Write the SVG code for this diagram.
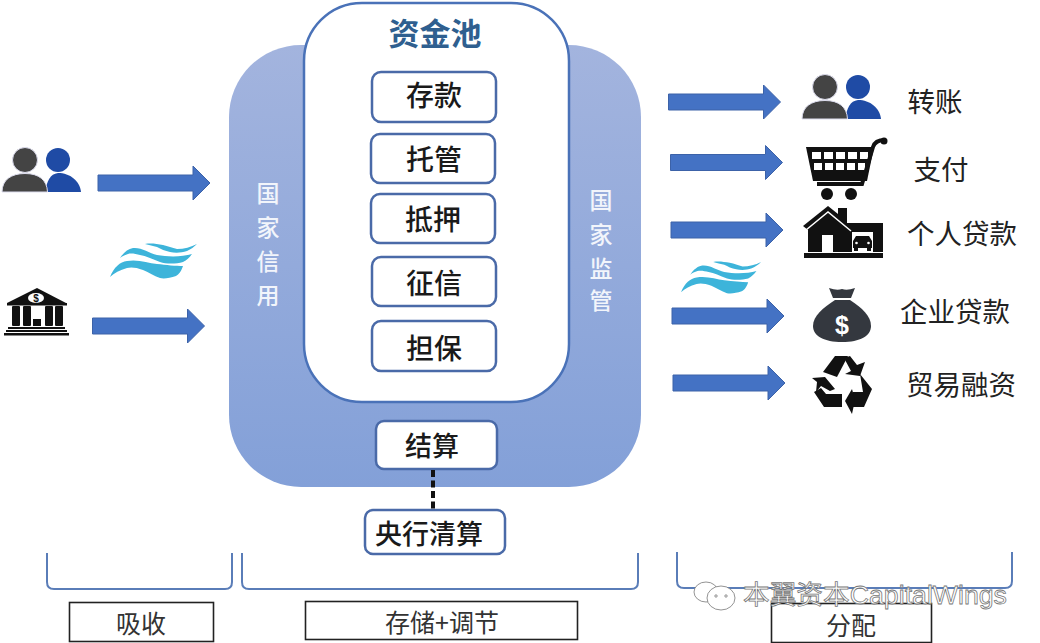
<svg xmlns="http://www.w3.org/2000/svg" width="1040" height="643" viewBox="0 0 1040 643">
<style>
text{font-family:"Liberation Sans","Noto Sans CJK SC",sans-serif;text-anchor:middle}
.box{fill:#fff;stroke:#4a6aa8;stroke-width:2.5}
.bt{font-size:28px;font-weight:500;fill:#1a1a1a;font-family:"Noto Sans CJK SC",sans-serif}
.lab{font-size:27.500px;fill:#222;font-family:"Noto Sans CJK SC",sans-serif;font-weight:400}
.side{font-size:23px;font-weight:500;fill:#f2f5fb;font-family:"Noto Sans CJK SC",sans-serif}
.arrow{fill:#4472c4;stroke:#3c62a8;stroke-width:1}
.brk{fill:none;stroke:#5a7db8;stroke-width:2}
.cap{fill:#fff;stroke:#222;stroke-width:1.6}
.capt{font-size:25px;fill:#333;font-family:"Noto Sans CJK SC",sans-serif;font-weight:400}
.wm{font-size:26.700px;fill:#fff;stroke:#777;stroke-width:.8;font-family:"Liberation Sans","Noto Sans CJK SC",sans-serif;text-anchor:start}
</style>
<defs>
<linearGradient id="panel" x1="0" y1="0" x2="0" y2="1"><stop offset="0" stop-color="#a3b4de"/><stop offset="1" stop-color="#83a0d8"/></linearGradient>
<path id="arr" class="arrow" d="M0 -8H95V-17L112 0L95 17V8H0Z"/>
<g id="people">
<circle cx="58" cy="12" r="12" fill="#1f4ba5"/>
<path d="M45 44C47 33 50 26 58 25C70 25 80 33 81 44Z" fill="#1f4ba5"/>
<circle cx="25" cy="12" r="12.500" fill="#444" stroke="#dde" stroke-width="1"/>
<path d="M2 44C2 32 11 25.500 25 25.500C39 25.500 47 32 47.500 44Z" fill="#444" stroke="#dde" stroke-width="1"/>
</g>
<g id="wave" fill="#3db4da">
<path d="M0 34C4 24 10 19 17 18C28 16 38 20 47 21C56 22 66 23 73 23C71 29 69 31 66 33C60 35 54 36 50 35C44 33 38 29 33 27C26 24 20 24 17 25C10 27 4 30 0 34Z"/>
<path d="M10 15C14 9 18 6 23 5C31 4 39 10 47 12C58 14 72 14 82 11C79 15 77 17 73 19C66 21 56 21 50 19C42 16 36 13 30 12C26 11 21 10 18 11C15 12 12 13 10 15Z"/>
<path d="M35 1C41 0 47 1 53 2C58 3 62 5 67 6C74 6 81 4 87 1C84 4 81 6 77 8C71 10 65 10 60 9C55 8 51 6 47 4C43 3 39 2 35 1Z"/>
</g>
</defs>
<rect width="1040" height="643" fill="#fff"/>

<g id="panel-node">
<rect x="229" y="45" width="412" height="442" rx="72" fill="url(#panel)"/>
<text class="side" x="268" y="202">国</text><text class="side" x="268" y="236">家</text><text class="side" x="268" y="270">信</text><text class="side" x="268" y="304">用</text>
<text class="side" x="601" y="209">国</text><text class="side" x="601" y="243">家</text><text class="side" x="601" y="277">监</text><text class="side" x="601" y="309">管</text>
</g>
<g id="pool">
<rect x="304" y="3" width="265" height="399" rx="58" fill="#fff" stroke="#4a72b8" stroke-width="2.500"/>
<text x="435" y="45" font-size="31" font-weight="700" fill="#2f5f8f" style="font-family:'Noto Sans CJK SC',sans-serif">资金池</text>
</g>
<g id="n-cunkuan"><rect class="box" x="372" y="72" width="124" height="50" rx="9"/><text class="bt" x="434" y="106">存款</text></g>
<g id="n-tuoguan"><rect class="box" x="371" y="134" width="124" height="49" rx="9"/><text class="bt" x="434" y="170">托管</text></g>
<g id="n-diya"><rect class="box" x="371" y="194" width="124" height="49" rx="9"/><text class="bt" x="433" y="230">抵押</text></g>
<g id="n-zhengxin"><rect class="box" x="372" y="257" width="124" height="49" rx="9"/><text class="bt" x="434" y="294">征信</text></g>
<g id="n-danbao"><rect class="box" x="372" y="321" width="124" height="50" rx="9"/><text class="bt" x="434" y="359">担保</text></g>
<g id="n-jiesuan"><rect class="box" x="376" y="421" width="121" height="48" rx="8"/><text class="bt" x="432" y="456" style="font-size:27px">结算</text></g>
<g id="n-yanghang"><rect class="box" x="365" y="510" width="140" height="44" rx="8"/><text class="bt" x="429" y="544" style="font-size:27px">央行清算</text></g>

<g id="connectors">
<use href="#arr" x="98" y="183"/>
<use href="#arr" x="92.500" y="326"/>
<use href="#arr" x="668.500" y="102"/>
<use href="#arr" x="670.500" y="162.500"/>
<use href="#arr" x="671" y="230"/>
<use href="#arr" x="672" y="316"/>
<use href="#arr" x="673" y="383"/>
<path d="M433 470V509" stroke="#111" stroke-width="4" stroke-dasharray="7 3.500" fill="none"/>
</g>

<g id="icon-people-left"><use href="#people" x="0" y="148"/></g>
<g id="icon-wave-left"><use href="#wave" x="110" y="243"/></g>
<g id="icon-bank" fill="#111">
<path d="M37 288L66 303H7Z"/><rect x="7" y="303" width="60" height="2.500"/>
<ellipse cx="36" cy="298" rx="8" ry="5" fill="#fff"/>
<text x="36" y="302" font-size="10" font-weight="700" fill="#111">$</text>
<rect x="12" y="306" width="8" height="20" rx="1"/><rect x="23" y="306" width="8" height="20" rx="1"/><rect x="45" y="306" width="8" height="20" rx="1"/><rect x="55" y="306" width="8" height="20" rx="1"/><rect x="33" y="319" width="8" height="7"/>
<rect x="8" y="327" width="57" height="2"/><rect x="6" y="330" width="61" height="2"/><rect x="4" y="333" width="65" height="2.500"/>
</g>

<g id="icon-people-right"><use href="#people" x="800" y="75"/></g>
<g id="icon-cart" fill="#111">
<path d="M806 147H874L867 181H813Z"/>
<g fill="#fff"><rect x="812" y="152" width="9" height="7"/><rect x="824" y="152" width="9" height="7"/><rect x="836" y="152" width="9" height="7"/><rect x="848" y="152" width="9" height="7"/><rect x="860" y="152" width="8" height="7"/>
<rect x="814" y="163" width="8" height="7"/><rect x="825" y="163" width="8" height="7"/><rect x="836" y="163" width="8" height="7"/><rect x="847" y="163" width="8" height="7"/><rect x="858" y="163" width="7" height="7"/></g>
<path d="M817 184H862L873 147Q875 140 885 140" fill="none" stroke="#111" stroke-width="4"/>
<circle cx="884" cy="141" r="3.500"/><circle cx="827" cy="194" r="6"/><circle cx="851" cy="194" r="6"/>
</g>
<g id="icon-house" fill="#111">
<path d="M803 226L828 206L838 214V208H847V223H883V252H808V230Z"/>
<rect x="804" y="253" width="79" height="5"/>
<path d="M806 230L828 212L851 231" fill="none" stroke="#fff" stroke-width="1.500"/>
<rect x="822" y="235" width="11" height="18" fill="#fff"/>
<rect x="852" y="232" width="21" height="21" fill="#fff"/>
<path d="M853 248V241L856 236H869L872 241V248Z"/><rect x="854" y="248" width="4" height="3"/><rect x="867" y="248" width="4" height="3"/>
<circle cx="856.500" cy="243" r="1.300" fill="#fff"/><circle cx="868.500" cy="243" r="1.300" fill="#fff"/>
</g>
<g id="icon-wave-right"><use href="#wave" transform="translate(681 261) scale(.92)"/></g>
<g id="icon-moneybag">
<path d="M829 288Q837 291 842 289Q847 291 855 288L851 298H833Z" fill="#34383f"/>
<path d="M835 300H850C862 308 871 316 871 326C871 336 860 342 842 342C824 342 813 336 813 326C813 316 823 308 835 300Z" fill="#34383f"/>
<text x="842" y="334" font-size="25" font-weight="700" fill="#fff">$</text>
</g>
<g id="icon-recycle" fill="#111">
<path d="M823 372L835 356H848L837 377Z"/>
<path d="M850 356L857 365L865 362L860 376L845 374L851 371L844 358Z"/>
<path d="M860 374L872 389L864 407H853V392H863Z"/>
<path d="M852 389L845 401L852 414L855 400Z"/>
<path d="M842 394V407H824L814 392L821 388L826 394Z"/>
<path d="M812 378L825 377L835 389L830 391L821 386L816 392L817 382Z"/>
</g>

<g id="labels">
<text class="lab" x="935" y="112">转账</text>
<text class="lab" x="941" y="180">支付</text>
<text class="lab" x="962" y="244">个人贷款</text>
<text class="lab" x="955" y="322">企业贷款</text>
<text class="lab" x="961" y="395">贸易融资</text>
</g>

<g id="brackets">
<path class="brk" d="M47 553V582Q47 589 54 589H225Q232 589 232 582V553"/>
<path class="brk" d="M242 553V582Q242 589 249 589H631Q638 589 638 582V553"/>
<path class="brk" d="M677 552V581Q677 588 684 588H1005Q1012 588 1012 581V552"/>
</g>
<g id="cap-xishou"><rect class="cap" x="69.500" y="602.500" width="144" height="39"/><text class="capt" x="141" y="633">吸收</text></g>
<g id="cap-cunchu"><rect class="cap" x="305.500" y="601.500" width="272" height="38"/><text class="capt" x="442" y="632">存储+调节</text></g>
<g id="cap-fenpei"><rect class="cap" x="771.500" y="603.500" width="160" height="39"/><text class="capt" x="851" y="635">分配</text></g>

<g id="watermark">
<g fill="#fff" stroke="#777" stroke-width=".8">
<ellipse cx="706" cy="592" rx="12" ry="10"/><ellipse cx="721" cy="598" rx="14" ry="12"/>
<circle cx="716" cy="596" r="1.200"/><circle cx="726" cy="596" r="1.200"/>
</g>
<text class="wm" x="743" y="604">本翼资本CapitalWings</text>
</g>
</svg>
